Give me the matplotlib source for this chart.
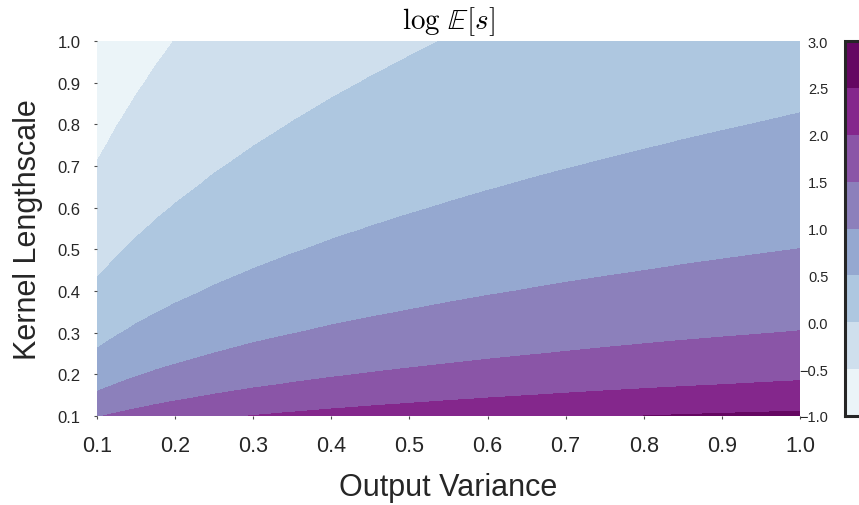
import numpy as np
import matplotlib.pyplot as plt

plt.rcParams['font.family'] = ['Liberation Sans', 'DejaVu Sans']
plt.rcParams['mathtext.fontset'] = 'cm'

# --------- data ---------
# grid of the two hyperparameters
variance = [0.1, 0.125, 0.15, 0.175, 0.2, 0.25, 0.3, 0.35, 0.4, 0.45, 0.5,
            0.55, 0.6, 0.65, 0.7, 0.75, 0.8, 0.85, 0.9, 0.95, 1.0]
lengthscale = [0.1, 0.11, 0.12, 0.13, 0.14, 0.15, 0.175, 0.2, 0.225, 0.25,
               0.3, 0.35, 0.4, 0.45, 0.5, 0.55, 0.6, 0.65, 0.7, 0.75, 0.8,
               0.85, 0.9, 0.95, 1.0]

# the contours follow l ~ sqrt(v), so log E[s] splits in a variance part
# and a lengthscale part (values estimated from where the bands cross)
variance_part = [-1.151, -1.040, -0.949, -0.871, -0.805, -0.693, -0.602,
                 -0.525, -0.458, -0.399, -0.347, -0.299, -0.255, -0.215,
                 -0.178, -0.144, -0.112, -0.081, -0.053, -0.026, 0.0]
lengthscale_part = [2.613, 2.517, 2.430, 2.350, 2.276, 2.207, 2.053, 1.919,
                    1.802, 1.696, 1.514, 1.360, 1.226, 1.109, 1.003, 0.908,
                    0.821, 0.741, 0.667, 0.598, 0.533, 0.473, 0.415, 0.361,
                    0.310]

levels = [-1.0, -0.5, 0.0, 0.5, 1.0, 1.5, 2.0, 2.5, 3.0]
x_ticks = [0.1, 0.2, 0.3, 0.4, 0.5, 0.6, 0.7, 0.8, 0.9, 1.0]
y_ticks = [0.1, 0.2, 0.3, 0.4, 0.5, 0.6, 0.7, 0.8, 0.9, 1.0]

# table for contourf
Z = np.add.outer(lengthscale_part, variance_part)
V, L = np.meshgrid(variance, lengthscale)

# --------- figure ---------
W, H = 859, 506
fig = plt.figure(figsize=(W / 100, H / 100), dpi=100)
ax = fig.add_axes([97 / W, 1 - 417 / H, 703 / W, 375 / H])
cax = fig.add_axes([845 / W, 1 - 417 / H, 40 / W, 375 / H])

cs = ax.contourf(V, L, Z, levels=levels, cmap='BuPu')

ax.set_xlim(0.1, 1.0)
ax.set_ylim(0.1, 1.0)
ax.set_xticks(x_ticks)
ax.set_yticks(y_ticks)
ax.set_xticklabels([f"{t:.1f}" for t in x_ticks])
ax.set_yticklabels([f"{t:.1f}" for t in y_ticks])
for s in ax.spines.values():
    s.set_visible(False)
ax.tick_params(axis='x', labelsize=15.5, length=2, width=0.8, color='.3',
               pad=12, labelcolor='.15')
ax.tick_params(axis='y', labelsize=12, length=2, width=0.8, color='.3',
               pad=10, labelcolor='.15')

ax.set_xlabel("Output Variance", fontsize=22, color='.15', labelpad=11)
ax.set_ylabel("Kernel Lengthscale", fontsize=22, color='.15', labelpad=10)
ax.set_title(r"$\log\,\mathbb{E}[s]$", fontsize=21, pad=9)

cb = fig.colorbar(cs, cax=cax, ticklocation='left')
cb.set_ticks(levels)
cb.ax.tick_params(length=0, labelsize=10.5, pad=12, labelcolor='.15')
cb.outline.set_linewidth(2.2)
cb.outline.set_edgecolor('.15')

plt.savefig("out.png", dpi=100)
